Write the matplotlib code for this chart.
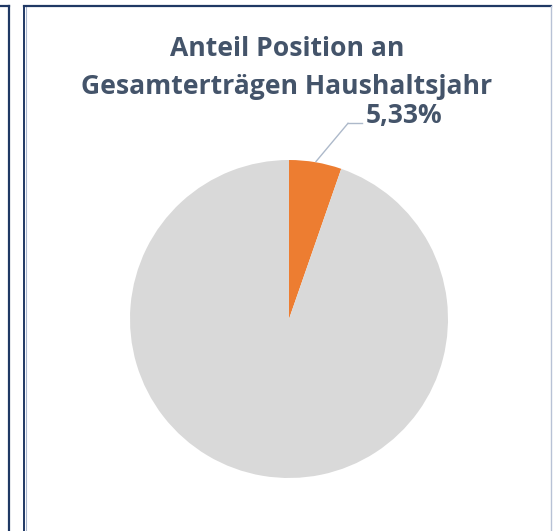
"""
Anteil Position an Gesamterträgen Haushaltsjahr - pie chart
"""

import matplotlib
matplotlib.use("Agg")
import matplotlib.pyplot as plt
from matplotlib.lines import Line2D

# data
labels = ["Position", "Übrige Erträge"]
shares = [5.33, 94.67]
colors = ["#ED7D31", "#D9D9D9"]
title_lines = ["Anteil Position an", "Gesamterträgen Haushaltsjahr"]
label_text = "5,33%"

W, H = 553, 531
DPI = 100
textcol = "#44546A"
navy = "#1F3864"

plt.rcParams["font.family"] = ["Open Sans", "DejaVu Sans"]

fig = plt.figure(figsize=(W / DPI, H / DPI), dpi=DPI)
fig.patch.set_facecolor("white")


def px(x, y):
	# pixel coords (from top-left) to figure fraction
	return x / W, 1 - y / H


def fline(x0, y0, x1, y1, **kw):
	(a, b), (c, d) = px(x0, y0), px(x1, y1)
	fig.add_artist(Line2D([a, c], [b, d], transform=fig.transFigure, **kw))


# frame lines of the dashboard tiles
fline(8.5, 5.5, 8.5, H, color=navy, lw=1.6, solid_capstyle="projecting")
fline(0, 5.5, 8.5, 5.5, color=navy, lw=1.6)
fline(24, 5.5, 24, H, color=navy, lw=1.4, solid_capstyle="projecting")
fline(25.8, 6.5, 25.8, H, color="#A8B6CE", lw=0.8)
fline(24, 5.5, 551, 5.5, color=navy, lw=1.6)
fline(551, 5.5, 551, H, color="#B8C2D6", lw=1.0)

# pie
cx, cy, r = 289, 319, 159
ax = fig.add_axes([(cx - r) / W, 1 - (cy + r) / H, 2 * r / W, 2 * r / H])
ax.pie(shares, colors=colors, startangle=90, counterclock=False, radius=1.0,
	wedgeprops={"linewidth": 0})
ax.set_xlim(-1, 1)
ax.set_ylim(-1, 1)
ax.set_aspect("equal")
ax.axis("off")

# title
for i, t in enumerate(title_lines):
	fig.text(287 / W, 1 - (55.7 + 38.6 * i) / H, t, ha="center", va="baseline",
		fontsize=19.1, fontweight="bold", color=textcol)

# data label with leader line
fline(316, 161.5, 348, 123.3, color="#ADB9CA", lw=1.0)
fline(348, 123.3, 362, 123.3, color="#ADB9CA", lw=1.0)
x0, y0 = px(366, 123.3)
fig.text(x0, y0, label_text, ha="left", va="baseline", fontsize=19,
	fontweight="bold", color=textcol)

fig.savefig("out.png", dpi=DPI)
